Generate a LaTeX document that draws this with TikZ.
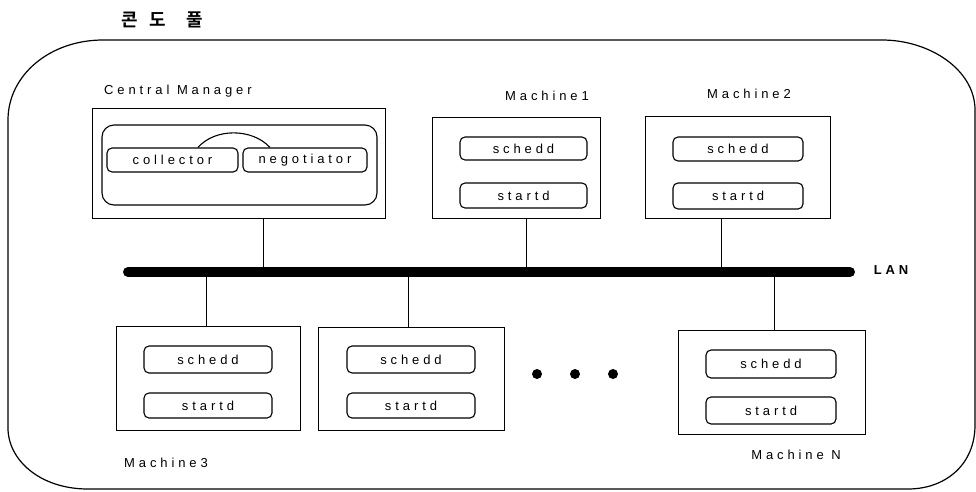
\documentclass[tikz,border=0pt]{standalone}
\usepackage{fontspec}
\setmainfont{Liberation Sans}
\newfontfamily\lblfont{Liberation Sans}[LetterSpace=30]
\newfontfamily\krfont{Noto Sans CJK KR}[BoldFont={Noto Sans CJK KR Bold}]
\begin{document}
\begin{tikzpicture}[x=1pt,y=-1pt,
  mbox/.style={draw, line width=0.9pt, rectangle, inner sep=0pt},
  proc/.style={draw, line width=1.1pt, rounded corners=5pt, inner sep=0pt,
    minimum width=128pt, minimum height=25pt,
    font=\lblfont\fontsize{13}{15}\selectfont},
  lbl/.style={inner sep=0pt, font=\lblfont\fontsize{13}{15}\selectfont},
  wire/.style={line width=0.9pt},
  dotn/.style={circle, fill=black, inner sep=0pt, minimum size=10pt}]
\useasboundingbox (0,0) rectangle (976,491);

% title
\node[inner sep=0pt, font=\krfont\bfseries\fontsize{18}{20}\selectfont] (title) at (162,20)
  {콘\hspace{12pt}도\hspace{20pt}풀};

% pool boundary
\draw[line width=1.2pt] (103,40) -- (882,40)
  .. controls (930,40) and (975,70) .. (975,110) -- (975,425)
  .. controls (975,465) and (945,489) .. (908,489) -- (88,489)
  .. controls (40,489) and (8,460) .. (8,428) -- (8,120)
  .. controls (8,75) and (50,40) .. (103,40);

% LAN backbone
\coordinate (lanL) at (128,272);
\coordinate (lanR) at (850,272);
\draw[line width=10pt, line cap=round] (lanL) -- (lanR);
\node[inner sep=0pt, font=\lblfont\bfseries\fontsize{13}{15}\selectfont] (lan) at (891,270) {LAN};

% central manager
\node[lbl, anchor=west] (cmlbl) at (104,91) {Central Manager};
\node[mbox, minimum width=293pt, minimum height=110pt] (cm) at (238.5,163) {};
\node[draw, line width=1.1pt, rounded corners=12pt, minimum width=275pt, minimum height=80pt] (cmin) at (239.5,165) {};
\node[proc, minimum width=131pt, minimum height=24pt] (coll) at (172.5,160) {collector};
\node[proc, minimum width=124pt, minimum height=24pt] (neg) at (305,160) {\raisebox{2pt}{negotiator}};
\draw[line width=1.1pt] ([xshift=25.5pt]coll.north) .. controls (215,128) and (252,128) .. ([xshift=-35pt]neg.north);
\draw[wire] ([xshift=24.5pt]cm.south) -- ([xshift=24.5pt]cm.south |- lanL);

% machine 1
\node[lbl] (m1lbl) at (547,96) {Machine1};
\node[mbox, minimum width=168pt, minimum height=101pt] (m1) at (516,167.5) {};
\node[proc, minimum width=127pt, minimum height=23pt] (m1s) at (523.5,148.5) {schedd};
\node[proc, minimum width=127pt] (m1t) at (523.5,195.5) {startd};
\draw[wire] ([xshift=10pt]m1.south) -- ([xshift=10pt]m1.south |- lanL);

% machine 2
\node[lbl] (m2lbl) at (749,94) {Machine2};
\node[mbox, minimum width=185pt, minimum height=102pt] (m2) at (737.5,167) {};
\node[proc, minimum width=130pt, minimum height=24pt] (m2s) at (738,149) {schedd};
\node[proc, minimum width=130pt, minimum height=26pt] (m2t) at (738,196) {startd};
\draw[wire] ([xshift=-16.5pt]m2.south) -- ([xshift=-16.5pt]m2.south |- lanL);

% machine 3
\node[mbox, minimum width=184pt, minimum height=104pt] (m3) at (208,378) {};
\node[proc, minimum height=27pt] (m3s) at (208,359.5) {schedd};
\node[proc] (m3t) at (208,405.5) {startd};
\node[lbl, anchor=west] (m3lbl) at (124,463) {Machine3};
\draw[wire] ([xshift=-2pt]m3.north) -- ([xshift=-2pt]m3.north |- lanL);

% machine 4
\node[mbox, minimum width=186pt, minimum height=103pt] (m4) at (411,378.5) {};
\node[proc, minimum height=27pt] (m4s) at (411,359.5) {schedd};
\node[proc] (m4t) at (411,405.5) {startd};
\draw[wire] ([xshift=-3pt]m4.north) -- ([xshift=-3pt]m4.north |- lanL);

% ellipsis
\node[dotn] (d1) at (537,374) {};
\node[dotn] (d2) at (575,374) {};
\node[dotn] (d3) at (613,374) {};

% machine N
\node[mbox, minimum width=187pt, minimum height=104pt] (mn) at (771.5,382) {};
\node[proc, minimum width=130pt, minimum height=28pt] (mns) at (771,364) {schedd};
\node[proc, minimum width=130pt, minimum height=27pt] (mnt) at (771,410.5) {startd};
\node[lbl] (mnlbl) at (796,455) {Machine N};
\draw[wire] ([xshift=2.5pt]mn.north) -- ([xshift=2.5pt]mn.north |- lanL);
\end{tikzpicture}
\end{document}
